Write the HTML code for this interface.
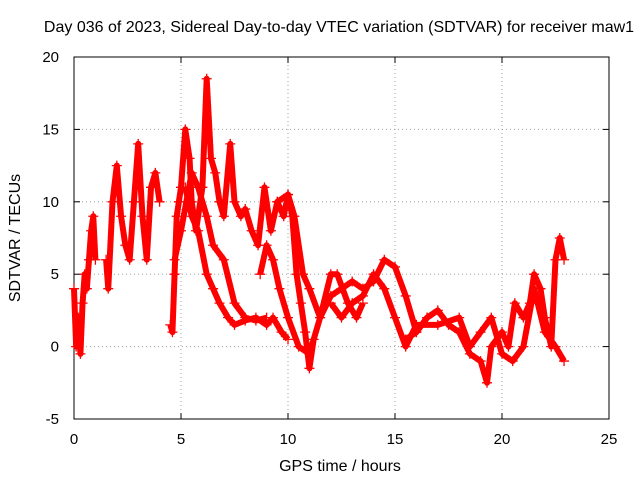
<!DOCTYPE html>
<html><head><meta charset="utf-8"><style>
body{margin:0;background:#fff}
svg{display:block;font-family:"Liberation Sans",sans-serif}
</style></head><body>
<svg id="c" width="640" height="480"></svg>
<script>
const xTicks=[0,5,10,15,20,25];
const yTicks=[-5,0,5,10,15,20];
const trackA=[[0,4],[0.1,0],[0.2,2],[0.3,-0.5],[0.4,3],[0.5,5],[0.6,4],[0.7,6],[0.8,8],[0.9,9],[1.0,6]];
const trackB=[[1.5,6],[1.6,4],[1.8,10],[2.0,12.5],[2.2,9],[2.4,7],[2.6,6],[2.8,10],[3.0,14],[3.2,9],[3.4,6],[3.6,11],[3.8,12],[4.0,10]];
const trackC=[[4.5,1.5],[4.6,1],[4.7,5],[4.8,9],[4.9,10],[5.0,11],[5.2,15],[5.4,13],[5.5,10],[5.7,8],[6.0,11],[6.2,18.5],[6.4,13],[6.6,12],[6.8,10],[7.0,9],[7.3,14],[7.5,10],[7.8,9],[8.0,9.5],[8.3,8],[8.6,7],[8.9,11],[9.2,8],[9.5,10],[9.8,9],[10.0,10.5],[10.2,9],[10.4,5],[10.6,3],[10.8,1],[11.0,-1.5],[11.2,0.5]];
const trackD=[[5.2,11],[5.5,9],[5.8,8],[6.2,5],[6.5,4],[6.8,3],[7.2,2],[7.5,1.5],[8,1.8],[8.5,2],[9,1.5],[9.3,2],[9.7,1],[10,0.5]];
const trackE=[[4.7,6],[5,8],[5.5,12],[5.8,11],[6.2,9],[6.5,7],[7,6],[7.5,3],[8,2],[8.5,1.8],[9,2]];
const trackF=[[8.7,5],[9,7],[9.3,6],[9.6,4],[10,2],[10.5,0],[11,-0.5],[11.5,2],[12,5],[12.3,5],[12.8,3],[13.2,2],[13.5,3]];
const trackG=[[9.5,10],[10,10.5],[10.3,9],[10.7,5],[11,4],[11.5,2],[12,3.5],[12.5,4],[13,4.5],[13.5,4],[14,4.5],[14.5,6],[15,5.5],[15.5,3.5],[16,1],[16.5,2]];
const trackH=[[12,3],[12.5,2],[13,3],[13.5,3.5],[14,5],[14.5,4],[15,2],[15.5,0],[16,1.5]];
const trackI=[[15.5,0.5],[16,1],[16.5,2],[17,2.5],[17.5,1.5],[18,1],[18.5,-0.5],[19,-1],[19.3,-2.5],[19.5,0],[20,1],[20.3,0],[20.6,3],[21,2],[21.3,3],[21.5,5],[21.8,4],[22,2],[22.3,0],[22.5,6],[22.7,7.5],[22.9,6]];
const trackJ=[[16,1.5],[17,1.5],[18,2],[18.5,0],[19,1],[19.5,2],[20,-0.5],[20.5,-1],[21,0],[21.5,4],[22,1],[22.5,0],[22.9,-1]];
const tracks=[trackA,trackB,trackC,trackD,trackE,trackF,trackG,trackH,trackI,trackJ];

const L=74,R=609,T=57,B=419;
const xs=v=>L+(v-0)/(25-0)*(R-L);
const ys=v=>B-(v+5)/(25)*(B-T);
const svg=document.getElementById('c');
const NS='http://www.w3.org/2000/svg';
function mk(tag,attrs,parent){const e=document.createElementNS(NS,tag);for(const k in attrs)e.setAttribute(k,attrs[k]);(parent||svg).appendChild(e);return e;}

xTicks.forEach(t=>{
  if(t>0&&t<25){const g=mk('line',{x1:xs(t),x2:xs(t),y1:T,y2:B,stroke:'#a0a0a0','stroke-dasharray':'1,3'});
  
  }
  const tx=mk('text',{x:xs(t),y:B+25,'text-anchor':'middle','font-size':15});tx.textContent=t;
  
  
  mk('line',{x1:xs(t),x2:xs(t),y1:B,y2:B-6,stroke:'#000'});
  mk('line',{x1:xs(t),x2:xs(t),y1:T,y2:T+6,stroke:'#000'});
});
yTicks.forEach(t=>{
  if(t>-5&&t<20){const g=mk('line',{x1:L,x2:R,y1:ys(t),y2:ys(t),stroke:'#a0a0a0','stroke-dasharray':'1,3'});
  
  }
  const tx=mk('text',{x:L-15,y:ys(t)+5,'text-anchor':'end','font-size':15});tx.textContent=t;
  
  
  mk('line',{x1:L,x2:L+6,y1:ys(t),y2:ys(t),stroke:'#000'});
  mk('line',{x1:R,x2:R-6,y1:ys(t),y2:ys(t),stroke:'#000'});
});
const frame=mk('rect',{x:L,y:T,width:R-L,height:B-T,fill:'none',stroke:'#000'});



tracks.forEach(tr=>{
  const p=mk('polyline',{points:tr.map(d=>xs(d[0])+','+ys(d[1])).join(' '),fill:'none',stroke:'#f00','stroke-width':6,'stroke-linejoin':'round'});
  
  
  tr.forEach(d=>{
    const m=mk('path',{d:`M${xs(d[0])-5},${ys(d[1])}h10M${xs(d[0])},${ys(d[1])-5}v10`,stroke:'#f00','stroke-width':1.3});
    
    
  });
});

const title=mk('text',{x:339,y:32,'text-anchor':'middle','font-size':16});
title.textContent='Day 036 of 2023, Sidereal Day-to-day VTEC variation (SDTVAR) for receiver maw1';


const xl=mk('text',{x:340,y:471,'text-anchor':'middle','font-size':16});
xl.textContent='GPS time / hours';


const yl=mk('text',{x:0,y:0,'text-anchor':'middle','font-size':16,transform:'translate(20,238) rotate(-90)'});
yl.textContent='SDTVAR / TECUs';


</script>
</body></html>
